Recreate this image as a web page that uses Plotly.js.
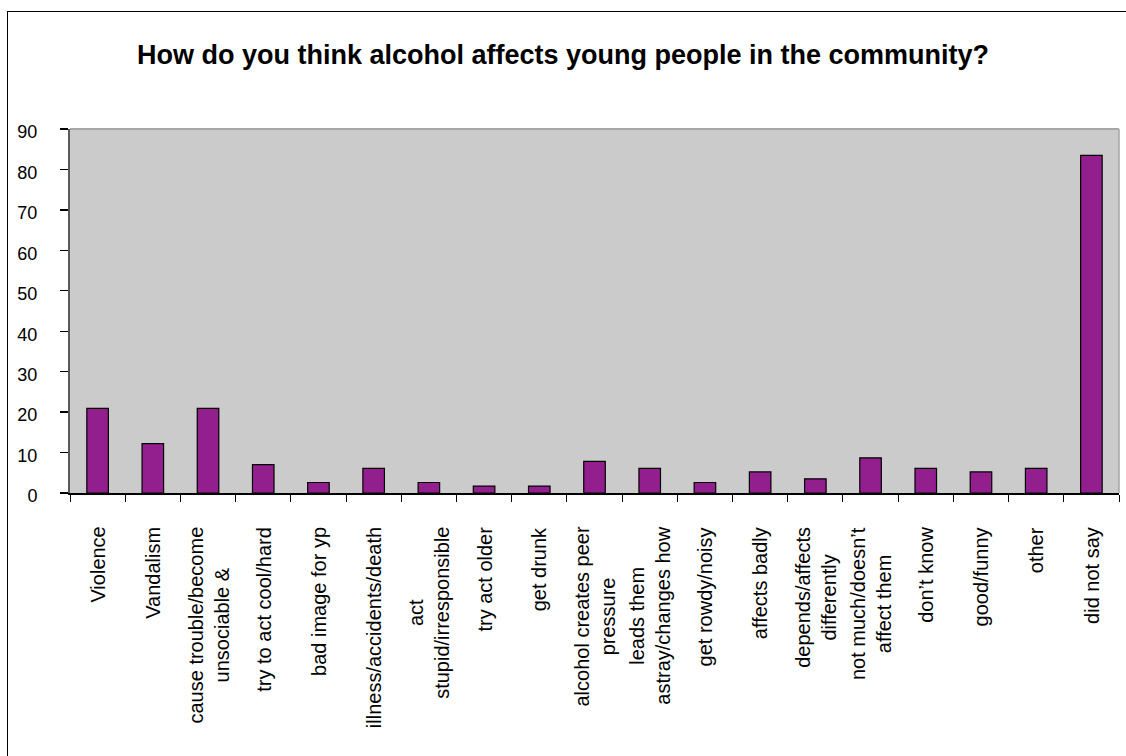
<!DOCTYPE html>
<html>
<head>
<meta charset="utf-8">
<script src="https://cdn.plot.ly/plotly-3.0.1.min.js"></script>
<style>
  html, body { margin: 0; padding: 0; background: #fff; overflow: hidden; }
  #wrap { position: relative; width: 1126px; height: 756px; }
  #chart { width: 1126px; height: 756px; }
  #frame { position: absolute; left: 7px; top: 11px; width: 1200px; height: 800px;
           border-left: 1px solid #000; border-top: 1px solid #000; pointer-events: none; }
</style>
</head>
<body>
<div id="wrap">
  <div id="chart"></div>
  <div id="frame"></div>
</div>
<script>
const chartTitle = "How do you think alcohol affects young people in the community?";
const categories = [
  "Violence",
  "Vandalism",
  "cause trouble/become<br>unsociable &",
  "try to act cool/hard",
  "bad image for yp",
  "illness/accidents/death",
  "act<br>stupid/irresponsible",
  "try act older",
  "get drunk",
  "alcohol creates peer<br>pressure",
  "leads them<br>astray/changes how",
  "get rowdy/noisy",
  "affects badly",
  "depends/affects<br>differently",
  "not much/doesn\u2019t<br>affect them",
  "don\u2019t know",
  "good/funny",
  "other",
  "did not say"
];
const values = [20.9, 12.2, 20.9, 7.0, 2.6, 6.1, 2.6, 1.7, 1.7, 7.8, 6.1, 2.6, 5.2, 3.5, 8.7, 6.1, 5.2, 6.1, 83.5];
const yTicks = [0, 10, 20, 30, 40, 50, 60, 70, 80, 90];

const font = "'Liberation Sans', Arial, sans-serif";

const trace = {
  type: "bar",
  x: categories,
  y: values,
  width: 0.39,
  marker: { color: "#931F8F", line: { color: "#000000", width: 1.2 } },
  hoverinfo: "x+y"
};

const annotations = categories.map(c => ({
  x: c, xref: "x",
  y: 0, yref: "paper",
  yshift: -32,
  xanchor: "center", yanchor: "top",
  textangle: -90,
  align: "center",
  showarrow: false,
  text: c,
  font: { family: font, size: 20, color: "#000" }
}));

const layout = {
  width: 1126, height: 756,
  margin: { l: 70, r: 7, t: 129, b: 263, pad: 0 },
  paper_bgcolor: "#ffffff",
  plot_bgcolor: "#CBCBCB",
  showlegend: false,
  title: {
    text: "<b>" + chartTitle + "</b>",
    font: { family: font, size: 27, color: "#000" },
    x: 0.5, xanchor: "center",
    y: 1 - 55 / 756, yanchor: "middle", yref: "container"
  },
  xaxis: {
    type: "category",
    showticklabels: false,
    tickson: "boundaries",
    ticks: "outside", ticklen: 7, tickwidth: 1, tickcolor: "#000",
    showline: true, linecolor: "#000", linewidth: 1.5,
    showgrid: false, zeroline: false,
    fixedrange: true
  },
  yaxis: {
    range: [0, 90],
    tickvals: yTicks,
    ticktext: yTicks.map(String),
    ticks: "outside", ticklen: 8, tickwidth: 1.3, tickcolor: "#000",
    ticklabelstandoff: 19,
    ticklabelshift: 3,
    tickfont: { family: font, size: 18, color: "#000" },
    showline: true, linecolor: "#5A5A5A", linewidth: 2,
    showgrid: false, zeroline: false,
    fixedrange: true
  },
  shapes: [
    { type: "line", xref: "paper", yref: "paper", x0: 0, x1: 1, y0: 1, y1: 1,
      line: { color: "#A6A6A6", width: 2 } },
    { type: "line", xref: "paper", yref: "paper", x0: 1, x1: 1, y0: 0, y1: 1,
      line: { color: "#A6A6A6", width: 1.5 } }
  ],
  annotations: annotations,
  bargap: 0.61
};

Plotly.newPlot("chart", [trace], layout, { displayModeBar: false, staticPlot: true });
</script>
</body>
</html>
